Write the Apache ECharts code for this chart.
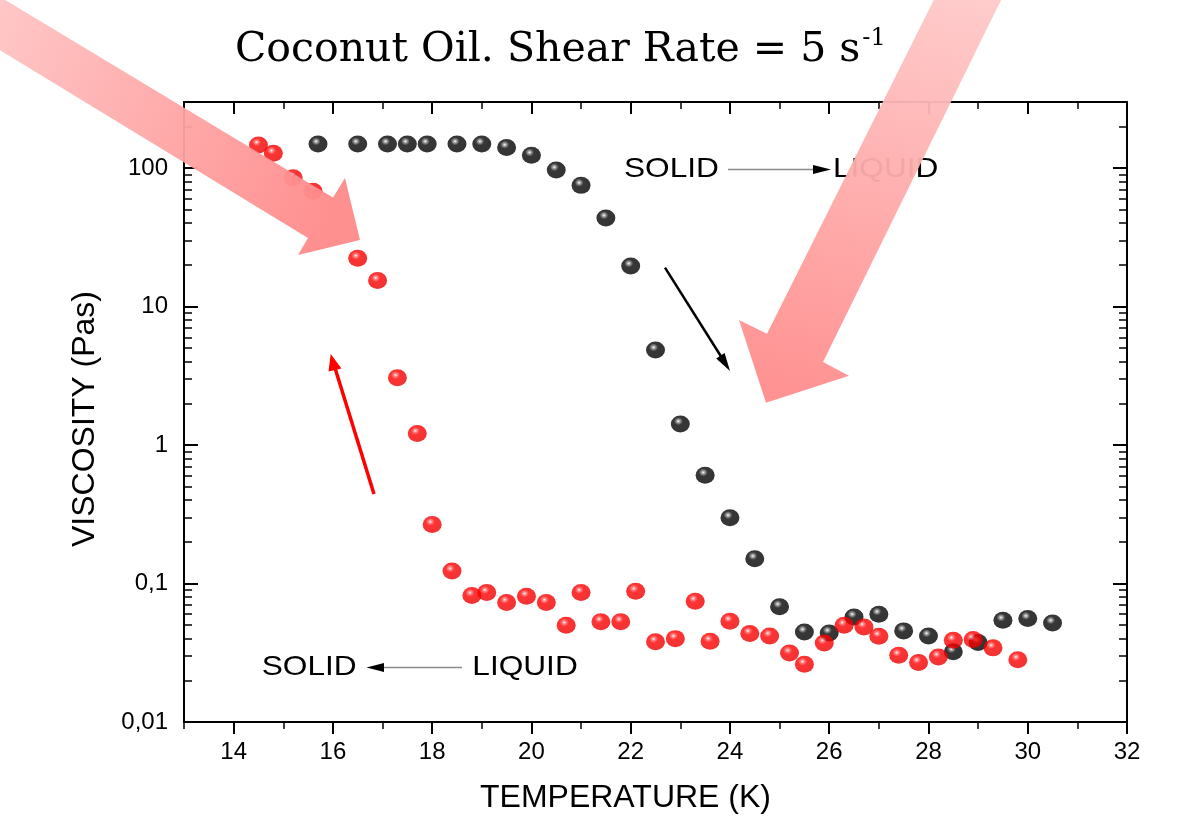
<!DOCTYPE html>
<html><head><meta charset="utf-8">
<script src="https://cdn.jsdelivr.net/npm/echarts@6/dist/echarts.min.js"></script>
<style>html,body{margin:0;padding:0;background:#fff}#c{width:1192px;height:818px}</style>
</head><body><div id="c"></div>
<script>
// Heating run (solid -> liquid), black spheres
const heatingTemp = [15.7,16.5,17.1,17.5,17.9,18.5,19,19.5,20,20.5,21,21.5,22,22.5,23,23.5,24,24.5,25,25.5,26,26.5,27,27.5,28,28.5,29,29.5,30,30.5];
const heatingVisc = [149,149,149,149,149,149,149,141,124,97,75,43.6,19.6,4.85,1.42,0.606,0.298,0.151,0.068,0.0447,0.044,0.0574,0.060,0.0455,0.0418,0.0321,0.0375,0.0543,0.0559,0.0519];
// Cooling run (liquid -> solid), red spheres
const coolingTemp = [14.5,14.8,15.2,15.6,16.5,16.9,17.3,17.7,18.0,18.4,18.8,19.1,19.5,19.9,20.3,20.7,21.0,21.4,21.8,22.1,22.5,22.9,23.3,23.6,24.0,24.4,24.8,25.2,25.5,25.9,26.3,26.7,27.0,27.4,27.8,28.2,28.5,28.9,29.3,29.8];
const coolingVisc = [147,128,85,68,22.3,15.4,3.06,1.21,0.267,0.123,0.082,0.086,0.073,0.081,0.073,0.050,0.086,0.053,0.053,0.088,0.038,0.040,0.0745,0.0383,0.0534,0.0435,0.0418,0.0315,0.0261,0.0372,0.050,0.0486,0.0416,0.0303,0.0269,0.0295,0.0389,0.0394,0.0343,0.0282];
// Tick values
const xMajorTicks = [14,16,18,20,22,24,26,28,30,32];
const xMinorTicks = [13,15,17,19,21,23,25,27,29,31];
const yMajorTicks = [0.01,0.1,1,10,100];
const yMinorTicks = [0.02,0.03,0.04,0.05,0.06,0.07,0.08,0.09,0.2,0.3,0.4,0.5,0.6,0.7,0.8,0.9,2,3,4,5,6,7,8,9,20,30,40,50,60,70,80,90,200,300];

const FONT = '"Liberation Sans", Arial, sans-serif';
const chart = echarts.init(document.getElementById('c'), null, {renderer: 'canvas'});

function xAx(pos, ticks, len, inside, withLine, withLabel) {
  return {
    type: 'value', position: pos, min: 13, max: 32,
    axisLine: {show: withLine, onZero: false, lineStyle: {color: '#000', width: 2}},
    axisTick: {show: true, inside: inside, length: len, customValues: ticks, lineStyle: {color: '#000', width: len > 9 ? 2 : 1.5}},
    axisLabel: {show: withLabel, customValues: ticks, margin: 18, color: '#000', fontSize: 24, fontFamily: FONT},
    splitLine: {show: false}
  };
}
function yAx(pos, ticks, len, withLine, withLabel) {
  return {
    type: 'log', logBase: 10, position: pos, min: 0.01, max: 300,
    axisLine: {show: withLine, onZero: false, lineStyle: {color: '#000', width: 2}},
    axisTick: {show: true, inside: true, length: len, customValues: ticks, lineStyle: {color: '#000', width: len > 9 ? 2 : 1.5}},
    axisLabel: {show: withLabel, customValues: ticks, margin: 16, color: '#000', fontSize: 24, fontFamily: FONT,
      formatter: v => String(+v.toPrecision(6)).replace('.', ',')},
    splitLine: {show: false}, minorTick: {show: false}, minorSplitLine: {show: false}
  };
}

const xMain = xAx('bottom', xMajorTicks, 12, false, true, true);
xMain.name = 'TEMPERATURE (K)';
xMain.nameLocation = 'middle';
xMain.nameGap = 60;
xMain.nameTextStyle = {color: '#000', fontSize: 32, fontFamily: FONT, padding: [0, 60, 0, 0]};
const yMain = yAx('left', yMajorTicks, 14, true, true);
yMain.name = 'VISCOSITY (Pas)';
yMain.nameLocation = 'middle';
yMain.nameGap = 83;
yMain.nameTextStyle = {color: '#000', fontSize: 32, fontFamily: FONT, padding: [0, 14, 0, 0]};

function sphere(hi, mid, dark, edge) {
  return {type: 'radial', x: 0.4, y: 0.34, r: 0.72, colorStops: [
    {offset: 0, color: hi}, {offset: 0.12, color: mid}, {offset: 0.32, color: dark}, {offset: 1, color: edge}]};
}

const leftArrow = [[-10,-9.2],[333,197.5],[345,178],[360,240],[298,255],[308,238],[-10,44.2]];
const rightArrow = [[938.7,-10],[767,333.8],[739,320],[766,402.7],[849,375.7],[823,362],[1006,-10]];
const ANNOT = '27.5px "Liberation Sans", Arial, sans-serif';

chart.setOption({
  animation: false,
  backgroundColor: '#fff',
  title: {
    text: '{a|Coconut Oil. Shear Rate = 5 s}{b|-1}',
    left: 230, top: 22,
    textStyle: {fontWeight: 'normal', rich: {
      a: {fontFamily: '"DejaVu Serif", serif', fontSize: 41, fontWeight: 'normal', color: '#000'},
      b: {fontFamily: '"DejaVu Serif", serif', fontSize: 24, fontWeight: 'normal', color: '#000', verticalAlign: 'top', padding: [0, 0, 22, 2]}
    }}
  },
  grid: {left: 184, right: 65, top: 102, bottom: 96, containLabel: false, outerBoundsMode: 'none'},
  xAxis: [
    xMain,
    xAx('bottom', xMinorTicks, 7, false, false, false),
    xAx('top', xMajorTicks, 12, true, true, false),
    xAx('top', xMinorTicks, 7, true, false, false)
  ],
  yAxis: [
    yMain,
    yAx('left', yMinorTicks, 8, false, false),
    yAx('right', yMajorTicks, 14, true, false),
    yAx('right', yMinorTicks, 8, false, false)
  ],
  series: [
    {
      name: 'Heating', type: 'scatter', xAxisIndex: 0, yAxisIndex: 0,
      symbol: 'circle', symbolSize: [19, 17],
      itemStyle: {color: sphere('#ffffff', '#8c8c8c', '#050505', '#000000')},
      data: heatingTemp.map((t, i) => [t, heatingVisc[i]]), z: 3
    },
    {
      name: 'Cooling', type: 'scatter', xAxisIndex: 0, yAxisIndex: 0,
      symbol: 'circle', symbolSize: [19, 17],
      itemStyle: {color: sphere('#ffffff', '#ff7070', '#ff0000', '#e80000')},
      data: coolingTemp.map((t, i) => [t, coolingVisc[i]]), z: 4
    }
  ],
  graphic: [
    // annotation: SOLID -> LIQUID (top)
    {type: 'text', x: 624, y: 169, scaleX: 1.15, z: 50, style: {text: 'SOLID', x: 0, y: 0, align: 'left', verticalAlign: 'middle', fill: '#000', font: ANNOT}},
    {type: 'line', z: 50, shape: {x1: 728, y1: 169.5, x2: 816, y2: 169.5}, style: {stroke: '#8a8a8a', lineWidth: 1.3}},
    {type: 'polygon', z: 50, shape: {points: [[831,169.5],[813,165],[813,174]]}, style: {fill: '#000'}},
    {type: 'text', x: 833, y: 169, scaleX: 1.15, z: 50, style: {text: 'LIQUID', x: 0, y: 0, align: 'left', verticalAlign: 'middle', fill: '#000', font: ANNOT}},
    // annotation: SOLID <- LIQUID (bottom)
    {type: 'text', x: 261.7, y: 667.3, scaleX: 1.15, z: 50, style: {text: 'SOLID', x: 0, y: 0, align: 'left', verticalAlign: 'middle', fill: '#000', font: ANNOT}},
    {type: 'line', z: 50, shape: {x1: 382, y1: 667.5, x2: 462, y2: 667.5}, style: {stroke: '#8a8a8a', lineWidth: 1.3}},
    {type: 'polygon', z: 50, shape: {points: [[366.5,667.5],[384,663],[384,672]]}, style: {fill: '#000'}},
    {type: 'text', x: 472.3, y: 667.3, scaleX: 1.15, z: 50, style: {text: 'LIQUID', x: 0, y: 0, align: 'left', verticalAlign: 'middle', fill: '#000', font: ANNOT}},
    // black arrow (heating)
    {type: 'line', z: 50, shape: {x1: 665, y1: 267.7, x2: 722, y2: 358}, style: {stroke: '#000', lineWidth: 2.5}},
    {type: 'polygon', z: 50, shape: {points: [[730,371],[716.2,358.5],[724.6,353.1]]}, style: {fill: '#000'}},
    // red arrow (cooling)
    {type: 'line', z: 50, shape: {x1: 374, y1: 494, x2: 335, y2: 368}, style: {stroke: '#ff0000', lineWidth: 3.5}},
    {type: 'polygon', z: 50, shape: {points: [[330.7,354],[328.5,371.5],[341.5,368.5]]}, style: {fill: '#ff0000'}},
    // big pink arrows
    {type: 'polygon', z: 100, shape: {points: leftArrow},
      style: {opacity: 0.95, fill: new echarts.graphic.LinearGradient(0, 0, 1, 0.6, [{offset: 0, color: '#ffc6c6'}, {offset: 1, color: '#ff8a8a'}])}},
    {type: 'polygon', z: 100, shape: {points: rightArrow},
      style: {opacity: 0.95, fill: new echarts.graphic.LinearGradient(0.7, 0, 0.3, 1, [{offset: 0, color: '#ffc8c8'}, {offset: 1, color: '#ff8c8c'}])}}
  ]
});
</script></body></html>
